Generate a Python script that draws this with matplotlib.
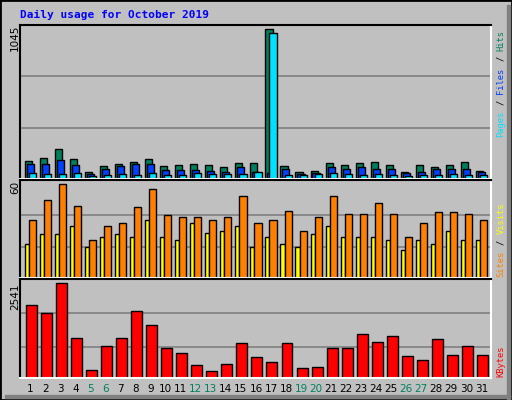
import matplotlib
matplotlib.use("Agg")
import matplotlib.pyplot as plt
from matplotlib.patches import Rectangle

# Daily usage data, October 2019
days = list(range(1, 32))
weekends = [5, 6, 12, 13, 19, 20, 26, 27]
hits = [123, 145, 208, 137, 52, 88, 102, 116, 137, 88, 95, 102, 95, 81, 109, 109,
        1045, 88, 52, 59, 109, 95, 109, 116, 95, 52, 95, 81, 95, 116, 59]
files = [102, 102, 130, 95, 38, 73, 88, 102, 102, 66, 66, 66, 59, 52, 81, 52,
         45, 73, 38, 45, 81, 73, 81, 73, 73, 45, 52, 73, 73, 73, 52]
pages = [45, 38, 38, 45, 24, 31, 38, 31, 45, 31, 31, 45, 38, 38, 38, 52,
         1019, 31, 31, 38, 45, 38, 31, 38, 31, 24, 31, 31, 38, 31, 31]
visits = [22, 28, 28, 33, 20, 26, 28, 26, 37, 26, 24, 35, 29, 30, 33, 20,
          26, 22, 20, 28, 33, 26, 26, 26, 24, 18, 24, 22, 30, 24, 24]
sites = [37, 50, 60, 46, 24, 33, 35, 45, 57, 40, 39, 39, 37, 39, 52, 35,
         37, 43, 30, 39, 52, 41, 41, 48, 41, 26, 35, 42, 42, 41, 37]
kbytes = [1957, 1734, 2541, 1066, 204, 844, 1066, 1790, 1428, 788, 677, 343, 176, 371, 927, 566,
          427, 927, 260, 287, 788, 788, 1178, 955, 1122, 593, 482, 1038, 621, 844, 621]

BG = "#C0C0C0"
W, H = 512, 400
SLOT = 15.03  # pixels per day
XMAX = 471 / SLOT
fig = plt.figure(figsize=(5.12, 4.0), dpi=100, facecolor=BG)


def px_axes(x0, y0, x1, y1):
    """axes from pixel box (top-left origin)"""
    ax = fig.add_axes([x0 / W, 1 - y1 / H, (x1 - x0) / W, (y1 - y0) / H])
    ax.set_facecolor(BG)
    ax.set_xlim(0, XMAX)
    ax.set_xticks([])
    ax.set_yticks([])
    for s in ax.spines.values():
        s.set_linewidth(1.5)
    ax.spines["bottom"].set_color("white")
    ax.spines["right"].set_color("white")
    return ax


def grid(ax, fracs, top):
    for f in fracs:
        ax.axhline(f * top, color="#808080", linewidth=1.2, zorder=0)


# Pages / Files / Hits
ax1 = px_axes(20, 25, 491, 179)
top1 = max(hits) * 151 / 147
ax1.set_ylim(0, top1)
grid(ax1, [1 / 3, 2 / 3], top1)
x = [d - 1 for d in days]
bk = dict(edgecolor="black", linewidth=1, align="edge")
ax1.bar([v + 0.33 for v in x], hits, 0.47, color="#00805F", **bk)
ax1.bar([v + 0.46 for v in x], files, 0.47, color="#0040FF", **bk)
ax1.bar([v + 0.6 for v in x], pages, 0.47, color="#00E0FF", **bk)

# Sites / Visits
ax2 = px_axes(20, 180, 491, 278)
top2 = 62.5
ax2.set_ylim(0, top2)
grid(ax2, [20 / top2, 40 / top2], top2)
ax2.bar([v + 0.33 for v in x], visits, 0.27, color="#FFFF00", **bk)
ax2.bar([v + 0.6 for v in x], sites, 0.47, color="#FF8000", **bk)

# KBytes
ax3 = px_axes(20, 279, 491, 378)
top3 = max(kbytes) * 95 / 91.3
ax3.set_ylim(0, top3)
grid(ax3, [29.4 / 95, 62.4 / 95], top3)
ax3.bar([v + 0.4 for v in x], kbytes, 0.73, color="#FF0000", **bk)

# day labels
for d in days:
    c = "#00805F" if d in weekends else "black"
    fig.text((20 + (d - 0.5) * SLOT + 3) / W, 1 - 389 / H, str(d), color=c,
             fontsize=7.5, ha="center", va="center")

# max value labels on the left
for val, y in [(max(hits), 25), (max(sites), 181), (max(kbytes), 283)]:
    fig.text(15 / W, 1 - y / H, str(val), rotation=90, fontsize=7.5,
             ha="center", va="top")


def side_label(parts, y_bottom, step=5.4):
    y = y_bottom
    for txt, col in parts:
        t = txt.strip()
        lead = len(txt) - len(txt.lstrip())
        fig.text(501 / W, 1 - (y - lead * step) / H, t, rotation=90, color=col,
                 fontsize=6.3, family="DejaVu Sans Mono", ha="center", va="bottom")
        y -= step * len(txt)


side_label([("Pages", "#00E0FF"), (" / ", "black"), ("Files", "#0040FF"),
            (" / ", "black"), ("Hits", "#00805F")], 137)
side_label([("Sites", "#FF8000"), (" / ", "black"), ("Visits", "#FFFF00")], 277)
side_label([("KBytes", "#FF0000")], 377)

fig.text(20 / W, 1 - 15 / H, "Daily usage for October 2019", color="#0000FF",
         fontsize=8, fontweight="bold", family="DejaVu Sans Mono", va="center")

# border and shadow
fig.patches.append(Rectangle((0, 0), 1, 1, transform=fig.transFigure, fill=False,
                             edgecolor="black", linewidth=2))
fig.patches.append(Rectangle((507 / W, 0), 3 / W, 1 - 5 / H, transform=fig.transFigure,
                             color="#808080"))
fig.patches.append(Rectangle((5 / W, 2 / H), 1 - 7 / W, 3 / H, transform=fig.transFigure,
                             color="#808080"))

plt.savefig("out.png", dpi=100, facecolor=BG)
